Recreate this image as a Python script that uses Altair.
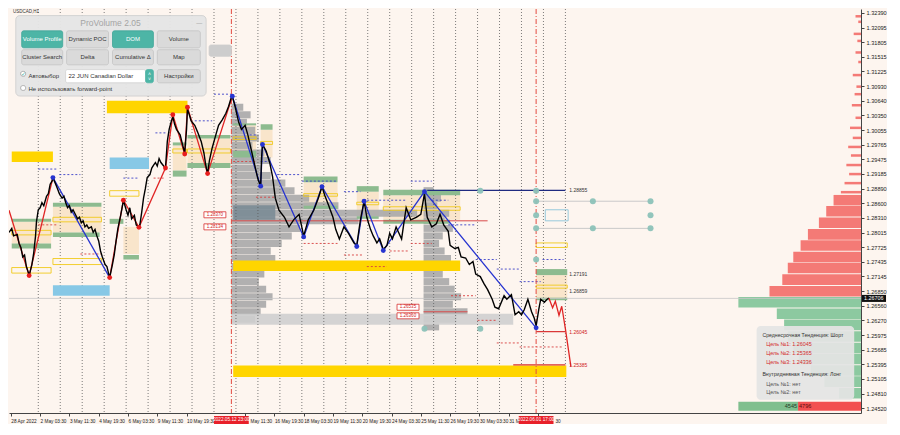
import json
import altair as alt
import pandas as pd

# ------------------------------------------------------------------ data
# x = hourly bar index since the first bar on screen, y = USDCAD price
# (the tick at bar 226 is hidden under a red time marker; partly covered labels keep their visible part)
TICK_BARS = [2, 34, 66, 98, 130, 162, 194, 258, 290, 322, 354, 386, 418, 450, 482, 514, 546, 578]
TICK_LABELS = ["28 Apr 2022", "2 May 03:30", "3 May 11:30", "4 May 19:30", "6 May 03:30",
               "9 May 11:30", "10 May 19:30", "May 11:30", "16 May 19:30",
               "18 May 03:30", "19 May 11:30", "20 May 19:30", "24 May 03:30", "25 May 11:30",
               "26 May 19:30", "30 May 03:30", "31 M", "30"]
DAY_BARS = [32, 56, 80, 104, 128, 152, 176, 200, 224, 248, 272, 296, 320, 344, 368, 392,
            416, 440, 464, 488, 512, 536, 560, 584, 608]
Y_TICKS = [1.32390, 1.32095, 1.31805, 1.31515, 1.31225, 1.30930, 1.30640, 1.30350, 1.30055,
           1.29765, 1.29475, 1.29185, 1.28890, 1.28600, 1.28310, 1.28015, 1.27725, 1.27435,
           1.27145, 1.26850, 1.26560, 1.26270, 1.25975, 1.25685, 1.25395, 1.25105, 1.24810, 1.24520]
X_DOMAIN = [0, 931]
Y_DOMAIN = [1.24426, 1.32465]
LAST_PRICE = 1.26706

MARK_BARS = [243, 576]
MARK_LABELS = ["2022.05.12 23:00", "2022.06.01 17:00"]

PRICE_BAR = [0, 3, 5, 9, 11, 13, 15, 17, 19, 21, 22, 25, 27, 29, 30, 32, 34, 36, 38, 41,
             43, 45, 47, 48, 51, 53, 55, 58, 60, 62, 64, 66, 68, 70, 73, 75, 77, 79, 81, 83,
             85, 87, 90, 92, 94, 96, 98, 100, 102, 105, 107, 109, 110, 113, 115, 117, 119, 122, 124, 125,
             128, 130, 132, 134, 137, 139, 142, 143, 145, 147, 149, 151, 154, 156, 158, 160, 162, 164, 166, 169,
             171, 173, 175, 177, 179, 181, 183, 187, 190, 192, 194, 195, 197, 199, 203, 206, 210, 213, 215, 217,
             219, 222, 226, 229, 233, 237, 240, 243, 244, 247, 251, 254, 258, 261, 265, 269, 272, 275, 276, 277,
             281, 285, 288, 291, 295, 301, 306, 311, 317, 322, 327, 333, 338, 342, 345, 349, 354, 357, 361, 366,
             371, 377, 380, 384, 388, 391, 395, 398, 402, 405, 409, 413, 416, 419, 423, 429, 432, 434, 439, 445,
             450, 454, 457, 462, 467, 471, 475, 480, 482, 487, 491, 494, 499, 503, 507, 510, 515, 519, 523, 528,
             531, 535, 541, 544, 549, 553, 557, 560, 563, 567, 571, 574, 576, 579, 581, 585, 588, 590]
PRICE = [1.2802, 1.2810, 1.2795, 1.2798, 1.2780, 1.2772, 1.2753, 1.2757, 1.2734, 1.2723,
         1.2716, 1.2738, 1.2761, 1.2795, 1.2823, 1.2847, 1.2851, 1.2861, 1.2855, 1.2874,
         1.2879, 1.2898, 1.2904, 1.2911, 1.2898, 1.2889, 1.2879, 1.2870, 1.2874, 1.2861,
         1.2851, 1.2855, 1.2842, 1.2847, 1.2836, 1.2829, 1.2832, 1.2821, 1.2825, 1.2813,
         1.2817, 1.2810, 1.2813, 1.2802, 1.2808, 1.2795, 1.2785, 1.2765, 1.2753, 1.2738,
         1.2734, 1.2719, 1.2712, 1.2738, 1.2757, 1.2785, 1.2810, 1.2836, 1.2855, 1.2866,
         1.2847, 1.2836, 1.2851, 1.2829, 1.2836, 1.2817, 1.2812, 1.2817, 1.2842, 1.2870,
         1.2889, 1.2911, 1.2917, 1.2930, 1.2936, 1.2941, 1.2934, 1.2949, 1.2941, 1.2934,
         1.2930, 1.2983, 1.3007, 1.3021, 1.3032, 1.3017, 1.3007, 1.2996, 1.2974, 1.2960,
         1.3007, 1.3047, 1.3036, 1.3024, 1.3015, 1.3002, 1.2983, 1.2960, 1.2936, 1.2919,
         1.2945, 1.2970, 1.2996, 1.3015, 1.3026, 1.3039, 1.3053, 1.3071, 1.3073, 1.3053,
         1.3021, 1.3007, 1.3015, 1.2996, 1.2964, 1.2932, 1.2908, 1.2894, 1.2951, 1.2977,
         1.2964, 1.2940, 1.2913, 1.2870, 1.2846, 1.2832, 1.2813, 1.2827, 1.2838, 1.2795,
         1.2827, 1.2846, 1.2870, 1.2893, 1.2876, 1.2857, 1.2832, 1.2808, 1.2789, 1.2813,
         1.2800, 1.2781, 1.2776, 1.2827, 1.2864, 1.2832, 1.2808, 1.2795, 1.2781, 1.2789,
         1.2768, 1.2776, 1.2800, 1.2789, 1.2813, 1.2789, 1.2827, 1.2851, 1.2827, 1.2832,
         1.2838, 1.2879, 1.2832, 1.2813, 1.2819, 1.2838, 1.2817, 1.2804, 1.2776, 1.2770,
         1.2772, 1.2753, 1.2751, 1.2738, 1.2744, 1.2719, 1.2714, 1.2700, 1.2688, 1.2669,
         1.2653, 1.2650, 1.2676, 1.2669, 1.2678, 1.2638, 1.2644, 1.2638, 1.2648, 1.2669,
         1.2644, 1.2631, 1.2616, 1.2650, 1.2669, 1.2663, 1.2669, 1.2671]

# zigzags
BLUE_ZZ = [(0, 48, 1.2911), (0, 110, 1.2712),
           (1, 244, 1.3073), (1, 275, 1.2894), (1, 277, 1.2977), (1, 322, 1.2793), (1, 342, 1.2893),
           (1, 380, 1.2774), (1, 388, 1.2864), (1, 409, 1.2766), (1, 454, 1.2883), (1, 576, 1.2612)]
RED_ZZ = [(0, 0, 1.2846), (0, 22, 1.2716), (0, 48, 1.2911),
          (1, 110, 1.2712), (1, 125, 1.2866), (1, 142, 1.2812), (1, 171, 1.2930), (1, 179, 1.3036),
          (1, 192, 1.2958), (1, 195, 1.3051), (1, 217, 1.2919), (1, 244, 1.3073)]
BLUE_DOT_BAR = [48, 244, 275, 277, 322, 342, 380, 388, 409, 454, 576]
BLUE_DOT_P = [1.2911, 1.3073, 1.2894, 1.2977, 1.2793, 1.2893, 1.2774, 1.2864, 1.2766, 1.2883, 1.2612]
RED_DOT_BAR = [22, 110, 125, 142, 171, 179, 192, 195, 217]
RED_DOT_P = [1.2716, 1.2712, 1.2866, 1.2812, 1.2930, 1.3036, 1.2958, 1.3051, 1.2919]

FORECAST_BAR = [590, 594, 597, 601, 604, 608, 614]
FORECAST = [1.2671, 1.2652, 1.2665, 1.2637, 1.2655, 1.2610, 1.2535]

# zones: (bar from, bar to, price top, price bottom)
GOLD_ZONES = [(3, 48, 1.2963, 1.2942), (107, 195, 1.3064, 1.3039),
              (245, 493, 1.2746, 1.2725), (245, 609, 1.2537, 1.2514)]
SKY_ZONES = [(110, 153, 1.2951, 1.2928), (48, 110, 1.2697, 1.2676)]
GREEN_ZONES = [(48, 101, 1.2861, 1.2853), (3, 46, 1.2829, 1.2823), (48, 99, 1.2802, 1.2793),
               (3, 46, 1.2780, 1.2770), (110, 125, 1.2829, 1.2819), (125, 142, 1.2757, 1.2748),
               (195, 242, 1.2996, 1.2989), (179, 194, 1.2981, 1.2975), (195, 242, 1.2940, 1.2930),
               (179, 194, 1.2925, 1.2913), (245, 270, 1.3019, 1.3015), (275, 288, 1.3017, 1.3006),
               (245, 270, 1.2964, 1.2951), (322, 359, 1.2913, 1.2902), (322, 359, 1.2855, 1.2849),
               (380, 404, 1.2894, 1.2883), (380, 404, 1.2834, 1.2829), (409, 493, 1.2887, 1.2876),
               (409, 482, 1.2827, 1.2819), (576, 610, 1.2729, 1.2717), (576, 610, 1.2672, 1.2667)]
BEIGE_ZONES = [(3, 46, 1.2823, 1.2780), (48, 101, 1.2853, 1.2802), (125, 142, 1.2813, 1.2759),
               (179, 194, 1.2975, 1.2925), (195, 242, 1.2989, 1.2940), (245, 270, 1.3015, 1.2964),
               (275, 288, 1.3006, 1.2951), (322, 359, 1.2902, 1.2855), (380, 404, 1.2883, 1.2834),
               (409, 493, 1.2876, 1.2827), (576, 610, 1.2717, 1.2671)]
YELLOW_BOXES = [(48, 101, 1.2832, 1.2823), (3, 46, 1.2806, 1.2797), (48, 101, 1.2750, 1.2738),
                (3, 46, 1.2732, 1.2721), (110, 142, 1.2885, 1.2874), (195, 242, 1.2968, 1.2960),
                (179, 194, 1.2968, 1.2960), (245, 270, 1.2992, 1.2987), (275, 288, 1.2983, 1.2977),
                (322, 359, 1.2879, 1.2874), (380, 404, 1.2862, 1.2857), (409, 493, 1.2853, 1.2846),
                (576, 610, 1.2781, 1.2772), (576, 610, 1.2697, 1.2691)]
SKY_BOXES = [(586, 611, 1.2847, 1.2825)]
VALUE_BAND = [(243, 551, 1.2640, 1.2618)]
DARK_BAND = [(245, 291, 1.2856, 1.2827)]

# short dotted levels: (bar from, bar to, price)
NAVY_DOTS = [(32, 53, 1.2928), (55, 78, 1.2917), (125, 142, 1.2910), (160, 171, 1.3000),
             (203, 222, 1.3024), (224, 245, 1.3077), (263, 270, 1.2996), (275, 288, 1.2943),
             (293, 318, 1.2917), (320, 359, 1.2904), (366, 384, 1.2883), (387, 434, 1.2866),
             (439, 462, 1.2904), (462, 480, 1.2866), (480, 510, 1.2817), (510, 533, 1.2748),
             (533, 558, 1.2729), (558, 581, 1.2704), (583, 606, 1.2748)]
RED_DOTS = [(32, 53, 1.2817), (78, 101, 1.2759), (158, 171, 1.2910), (245, 270, 1.2943),
            (270, 291, 1.2872), (322, 359, 1.2780), (366, 387, 1.2757), (391, 413, 1.2734),
            (416, 437, 1.2765), (439, 462, 1.2780), (483, 510, 1.2676), (512, 533, 1.2627),
            (533, 558, 1.2582), (558, 605, 1.2574)]
POC_LINES = [(243, 523, 1.2825), (453, 501, 1.2644)]

# levels with labels
NAVY_LEVEL = [(457, 608, 1.28855)]
RED_LEVELS = [(576, 608, 1.26045), (551, 608, 1.25385)]
LEVEL_TEXT_P = [1.28855, 1.27191, 1.26859]
LEVEL_TEXT = ["1.28855", "1.27191", "1.26859"]
RED_TEXT_P = [1.26045, 1.25385]
RED_TEXT = ["1.26045", "1.25385"]
TAG_BAR = [225, 225, 436, 436]
TAG_P = [1.2837, 1.2813, 1.2653, 1.2636]
TAG_TEXT = ["1.28370", "1.28134", "1.26535", "1.26360"]

# projection dots & lines
TEAL_BAR = [576, 576, 576, 576, 576, 638, 638, 701, 701, 701, 515, 454, 515]
TEAL_P = [1.2885, 1.2864, 1.2836, 1.2810, 1.2748, 1.2864, 1.2810, 1.2864, 1.2836, 1.2810,
          1.2885, 1.2610, 1.2610]
GRAY_LINES = [(576, 701, 1.2864), (576, 701, 1.2810)]

# volume profiles (price centre, volume in bars)
P1_START = 243
P1_PRICE = [1.3051, 1.3036, 1.3021, 1.3005, 1.2990, 1.2975, 1.2960, 1.2945, 1.2930, 1.2915,
            1.2900, 1.2885, 1.2870, 1.2855, 1.2840, 1.2825, 1.2810, 1.2795, 1.2780, 1.2765,
            1.2750, 1.2734, 1.2719, 1.2704, 1.2689, 1.2674, 1.2659, 1.2644, 1.2629]
P1_VOL = [13, 21, 17, 26, 30, 23, 36, 43, 32, 43, 59, 69, 85, 117, 203, 139, 75, 66, 55, 43,
          48, 43, 36, 30, 38, 45, 38, 32, 26]
P2_START = 453
P2_PRICE = [1.2885, 1.2870, 1.2855, 1.2840, 1.2825, 1.2810, 1.2795, 1.2780, 1.2765, 1.2750,
            1.2734, 1.2719, 1.2704, 1.2689, 1.2674, 1.2659, 1.2644, 1.2629, 1.2614]
P2_VOL = [11, 19, 15, 28, 23, 32, 21, 17, 23, 30, 38, 21, 28, 34, 41, 32, 48, 36, 17]
# session profile on the right edge (sellers above last price, buyers below)
RP_THIN_PRICE = [1.3232, 1.3221, 1.3197, 1.3183, 1.3160, 1.3141, 1.3115, 1.3092, 1.3077, 1.3055,
                 1.3030, 1.3010, 1.2990, 1.2972, 1.2955, 1.2936, 1.2918, 1.2900, 1.2882]
RP_THIN_VOL = [6, 3, 8, 4, 6, 3, 9, 5, 7, 10, 6, 12, 9, 14, 11, 16, 13, 18, 22]
RP_SELL_PRICE = [1.2866, 1.2844, 1.2821, 1.2798, 1.2776, 1.2753, 1.2731, 1.2708, 1.2685]
RP_SELL_VOL = [30, 38, 46, 58, 66, 74, 80, 86, 100]
RP_BUY_PRICE = [1.2663, 1.2640, 1.2618, 1.2595, 1.2572, 1.2550, 1.2527, 1.2505, 1.2482]
RP_BUY_VOL = [134, 92, 84, 80, 74, 68, 55, 40, 24]
BUY_TOTAL, SELL_TOTAL = 4545, 4796

INFO_LINES = ["Среднесрочная Тенденция: Шорт", "Цель №1: 1.26045", "Цель №2: 1.25365",
              "Цель №3: 1.24336", "Внутридневная Тенденция: Лонг", "Цель №1: нет", "Цель №2: нет"]

# ------------------------------------------------------------------ layout / style
W, H = 852, 404
RW, RH = 873.0, 427.0


def px(v):
    return round(v * W / RW, 1)


def py(v):
    return round(v * H / RH, 1)


BG = "#fdf5ef"
FONT = "Liberation Sans"
xs = alt.Scale(domain=X_DOMAIN, nice=False, zero=False)
ys = alt.Scale(domain=Y_DOMAIN, nice=False, zero=False)

x_axis = alt.Axis(values=TICK_BARS,
                  labelExpr="%s[indexof(%s, datum.value)]" % (json.dumps(TICK_LABELS), json.dumps(TICK_BARS)),
                  labelAlign="left", labelBaseline="top", labelFontSize=4.7, labelFont=FONT,
                  labelColor="#222", labelPadding=2, tickSize=3, tickColor="#444", domainColor="#444",
                  labelOffset={"condition": [{"test": "datum.value == 258", "value": 5},
                                             {"test": "datum.value == 578", "value": 17}],
                               "value": 0},
                  grid=False, title=None, labelOverlap=False, labelFlush=False)
y_axis = alt.Axis(orient="right", values=Y_TICKS, format=".5f", labelFontSize=5.6, labelFont=FONT,
                  labelColor="#222", labelPadding=2, tickSize=3, tickColor="#444", domainColor="#444",
                  grid=False, title=None, labelOverlap=False, labelFlush=False)


def XQ(f="x"):
    return alt.X(f + ":Q", scale=xs, axis=x_axis)


def YQ(f="y"):
    return alt.Y(f + ":Q", scale=ys, axis=y_axis)


def rects(zones, **mk):
    df = pd.DataFrame(zones, columns=["x", "x2", "y", "y2"])
    return alt.Chart(df).mark_rect(clip=True, **mk).encode(x=XQ(), x2="x2:Q", y=YQ(), y2="y2:Q")


def hlines(lines, **mk):
    df = pd.DataFrame(lines, columns=["x", "x2", "y"])
    return alt.Chart(df).mark_rule(clip=True, **mk).encode(x=XQ(), x2="x2:Q", y=YQ())


def profile(start, prices, vols, h, leftward=False):
    rows = []
    for p, v in zip(prices, vols):
        x1, x2 = (start - v, start) if leftward else (start, start + v)
        rows.append((x1, x2, p + h / 2, p - h / 2))
    return rows


layers = []
layers.append(rects(BEIGE_ZONES, color="#f7dfbf", opacity=0.75))
layers.append(rects(profile(P1_START, P1_PRICE, P1_VOL, 0.0014), color="#a9a9a9", opacity=0.9))
layers.append(rects(profile(P2_START, P2_PRICE, P2_VOL, 0.0014), color="#a9a9a9", opacity=0.9))
layers.append(rects(VALUE_BAND, color="#cfcfcf", opacity=0.9))
layers.append(rects(DARK_BAND, color="#7b8c96", opacity=0.9))
layers.append(alt.Chart(pd.DataFrame({"x": DAY_BARS})).mark_rule(
    clip=True, color="#5c5c5c", strokeDash=[1, 2], strokeWidth=0.8).encode(x=XQ()))
layers.append(rects(GOLD_ZONES, color="#ffd500"))
layers.append(rects(SKY_ZONES, color="#87c8e6"))
layers.append(rects(GREEN_ZONES, color="#8dbb8f"))
layers.append(rects(YELLOW_BOXES, color="#f0c91c", filled=False, strokeWidth=0.9))
layers.append(rects(SKY_BOXES, color="#8cc4da", filled=False, strokeWidth=0.9))
layers.append(hlines(NAVY_DOTS, color="#3a3fc8", strokeDash=[2, 2], strokeWidth=0.9))
layers.append(hlines(RED_DOTS, color="#d84040", strokeDash=[2, 2], strokeWidth=0.9))
layers.append(hlines(POC_LINES, color="#d84a4a", strokeWidth=1))
layers.append(rects(profile(X_DOMAIN[1], RP_THIN_PRICE, RP_THIN_VOL, 0.0005, leftward=True),
                    color="#f47a76"))
layers.append(rects(profile(X_DOMAIN[1], RP_SELL_PRICE, RP_SELL_VOL, 0.0021, leftward=True),
                    color="#f47a76"))
layers.append(rects(profile(X_DOMAIN[1], RP_BUY_PRICE, RP_BUY_VOL, 0.0021, leftward=True),
                    color="#8cc9a0"))
layers.append(alt.Chart(pd.DataFrame({"y": [LAST_PRICE]})).mark_rule(
    color="#c8c8c8", strokeWidth=0.8).encode(y=YQ()))
layers.append(hlines(GRAY_LINES, color="#c9c9c9", strokeWidth=1))
layers.append(hlines(NAVY_LEVEL, color="#1f2a80", strokeWidth=1.2))
layers.append(hlines(RED_LEVELS, color="#d93030", strokeWidth=1.2))
layers.append(alt.Chart(pd.DataFrame({"x": MARK_BARS})).mark_rule(
    clip=True, color="#e34b40", strokeDash=[5, 2, 1, 2], strokeWidth=1).encode(x=XQ()))
layers.append(alt.Chart(pd.DataFrame({"x": TEAL_BAR, "y": TEAL_P})).mark_circle(
    size=36, color="#8cc2b8", opacity=0.95, clip=True).encode(x=XQ(), y=YQ()))

blue_df = pd.DataFrame(BLUE_ZZ, columns=["seg", "x", "y"])
red_df = pd.DataFrame(RED_ZZ, columns=["seg", "x", "y"])
layers.append(alt.Chart(red_df).mark_line(color="#e02525", strokeWidth=1.3, clip=True).encode(
    x=XQ(), y=YQ(), detail="seg:N"))
layers.append(alt.Chart(blue_df).mark_line(color="#2734d0", strokeWidth=1.3, clip=True).encode(
    x=XQ(), y=YQ(), detail="seg:N"))

price_df = pd.DataFrame({"x": PRICE_BAR, "y": PRICE})
layers.append(alt.Chart(price_df).mark_line(color="#000000", strokeWidth=1.4, clip=True).encode(
    x=XQ(), y=YQ()))
layers.append(alt.Chart(pd.DataFrame({"x": FORECAST_BAR, "y": FORECAST})).mark_line(
    color="#e02525", strokeWidth=1.3, clip=True).encode(x=XQ(), y=YQ()))
layers.append(alt.Chart(pd.DataFrame({"x": BLUE_DOT_BAR, "y": BLUE_DOT_P})).mark_circle(
    size=24, color="#2734d0", opacity=1).encode(x=XQ(), y=YQ()))
layers.append(alt.Chart(pd.DataFrame({"x": RED_DOT_BAR, "y": RED_DOT_P})).mark_circle(
    size=24, color="#e81e1e", opacity=1).encode(x=XQ(), y=YQ()))

# level labels
layers.append(alt.Chart(pd.DataFrame({"x": [610] * 3, "y": LEVEL_TEXT_P, "t": LEVEL_TEXT})).mark_text(
    align="left", baseline="middle", fontSize=5, font=FONT, color="#333", dx=2).encode(
    x=XQ(), y=YQ(), text="t:N"))
layers.append(alt.Chart(pd.DataFrame({"x": [610] * 2, "y": RED_TEXT_P, "t": RED_TEXT})).mark_text(
    align="left", baseline="middle", fontSize=5, font=FONT, color="#d02020", dx=2).encode(
    x=XQ(), y=YQ(), text="t:N"))
tag_df = pd.DataFrame({"x": TAG_BAR, "y": TAG_P, "t": TAG_TEXT})
tag_df["x1"] = tag_df["x"] - 12
tag_df["x2"] = tag_df["x"] + 12
tag_df["y1"] = tag_df["y"] + 0.0006
tag_df["y2"] = tag_df["y"] - 0.0006
layers.append(alt.Chart(tag_df).mark_rect(color="#ffffff", stroke="#d83030", strokeWidth=0.8).encode(
    x=XQ("x1"), x2="x2:Q", y=YQ("y1"), y2="y2:Q"))
layers.append(alt.Chart(tag_df).mark_text(fontSize=4.5, font=FONT, color="#d02020").encode(
    x=XQ(), y=YQ(), text="t:N"))

# buy / sell totals strip
span = 134.0
bx0 = X_DOMAIN[1] - span
bx1 = bx0 + span * BUY_TOTAL / (BUY_TOTAL + SELL_TOTAL)
vol_df = pd.DataFrame({"x": [bx0, bx1], "x2": [bx1, X_DOMAIN[1]], "y": [1.2465, 1.2465],
                       "y2": [1.2447, 1.2447]})
layers.append(alt.Chart(vol_df.iloc[[0]]).mark_rect(color="#7fbf8e").encode(
    x=XQ(), x2="x2:Q", y=YQ(), y2="y2:Q"))
layers.append(alt.Chart(vol_df.iloc[[1]]).mark_rect(color="#f25050").encode(
    x=XQ(), x2="x2:Q", y=YQ(), y2="y2:Q"))
layers.append(alt.Chart(pd.DataFrame({"x": [bx1], "y": [1.2456], "t": [str(BUY_TOTAL)]})).mark_text(
    align="right", baseline="middle", fontSize=5.5, font=FONT, color="#1f3a25", dx=-1).encode(
    x=XQ(), y=YQ(), text="t:N"))
layers.append(alt.Chart(pd.DataFrame({"x": [bx1], "y": [1.2456], "t": [str(SELL_TOTAL)]})).mark_text(
    align="left", baseline="middle", fontSize=5.5, font=FONT, color="#5a0d0d", dx=1).encode(
    x=XQ(), y=YQ(), text="t:N"))

# time markers on the x axis
mk_df = pd.DataFrame({"x": MARK_BARS, "t": MARK_LABELS})
mk_df["x1"] = mk_df["x"] - 19
mk_df["x2"] = mk_df["x"] + 19
layers.append(alt.Chart(mk_df).mark_rect(color="#e8202a", clip=False).encode(
    x=XQ("x1"), x2="x2:Q", y=alt.value(H + 3), y2=alt.value(H + 11)))
layers.append(alt.Chart(mk_df).mark_text(color="#ffffff", fontSize=4.7, font=FONT, baseline="middle",
                                         clip=False).encode(x=XQ(), y=alt.value(H + 7.2), text="t:N"))

# current price marker on the y axis
cp_df = pd.DataFrame({"y": [LAST_PRICE + 0.0007], "y2": [LAST_PRICE - 0.0007], "yc": [LAST_PRICE],
                      "t": ["%.5f" % LAST_PRICE]})
layers.append(alt.Chart(cp_df).mark_rect(color="#111111", clip=False).encode(
    x=alt.value(W + 1), x2=alt.value(W + 25), y=YQ(), y2="y2:Q"))
layers.append(alt.Chart(cp_df).mark_text(color="#ffffff", fontSize=5.4, font=FONT, align="left",
                                         baseline="middle", clip=False).encode(
    x=alt.value(W + 3), y=YQ("yc"), text="t:N"))

# ------------------------------------------------------------------ UI overlays (pixel layout)
TEAL, GRAYB, WHITE = "#4db5a6", "#dadada", "#ffffff"
ui_boxes = [
    (205, 38, 228, 50, "#cdcdcd", "#cdcdcd"),
    (13, 23, 55, 41, TEAL, "#3fa597"), (59, 23, 102, 41, GRAYB, "#c4c4c4"),
    (106, 23, 148, 41, TEAL, "#3fa597"), (152, 23, 196, 41, GRAYB, "#c4c4c4"),
    (13, 43, 55, 59, GRAYB, "#c4c4c4"), (59, 43, 102, 59, GRAYB, "#c4c4c4"),
    (106, 43, 148, 59, GRAYB, "#c4c4c4"), (152, 43, 196, 59, GRAYB, "#c4c4c4"),
    (58, 64, 140, 78, WHITE, "#d0d0d0"), (140, 64, 148, 78, TEAL, TEAL),
    (152, 64, 196, 78, GRAYB, "#c4c4c4"),
    (12, 66, 17, 71, WHITE, "#9a9a9a"), (12, 81, 17, 86, WHITE, "#9a9a9a"),
]
ui_df = pd.DataFrame([(px(a), py(b), px(c), py(d), f, s) for a, b, c, d, f, s in ui_boxes],
                     columns=["x", "y", "x2", "y2", "f", "s"])
panel_df = pd.DataFrame([(px(7), py(7), px(202), py(92)), (px(766), py(335), px(866), py(413))],
                        columns=["x", "y", "x2", "y2"])
PXS = dict(scale=None, axis=None)
layers.append(alt.Chart(panel_df.iloc[[0]]).mark_rect(
    color="#e6e6e6", stroke="#d2d2d2", cornerRadius=4, opacity=0.96).encode(
    x=alt.X("x:Q", **PXS), x2="x2:Q", y=alt.Y("y:Q", **PXS), y2="y2:Q"))
layers.append(alt.Chart(panel_df.iloc[[1]]).mark_rect(
    color="#e4e4e4", cornerRadius=4, opacity=0.93).encode(
    x=alt.X("x:Q", **PXS), x2="x2:Q", y=alt.Y("y:Q", **PXS), y2="y2:Q"))
layers.append(alt.Chart(ui_df).mark_rect(cornerRadius=2, strokeWidth=0.8).encode(
    x=alt.X("x:Q", **PXS), x2="x2:Q", y=alt.Y("y:Q", **PXS), y2="y2:Q",
    fill=alt.Fill("f:N", scale=None, legend=None), stroke=alt.Stroke("s:N", scale=None, legend=None)))

ui_center = [
    (104, 15, "ProVolume 2.05", 8.5, "#a4a4a4"), (195, 15, "—", 6, "#999999"),
    (34, 32, "Volume Profile", 6, "#ffffff"), (80.5, 32, "Dynamic POC", 6, "#333333"),
    (127, 32, "DOM", 6, "#ffffff"), (174, 32, "Volume", 6, "#333333"),
    (34, 51, "Cluster Search", 6, "#333333"), (80.5, 51, "Delta", 6, "#333333"),
    (127, 51, "Cumulative Δ", 6, "#333333"), (174, 51, "Map", 6, "#333333"),
    (174, 71, "Настройки", 6, "#333333"), (14.5, 68.5, "✓", 6, TEAL),
    (144, 69, "˄", 5, "#ffffff"), (144, 74, "˅", 5, "#ffffff"),
]
ui_left = [
    (4, 3, "USDCAD,H1", 4.5, "#333333"),
    (20, 71, "Автовыбор", 6, "#333333"), (61, 71, "22 JUN Canadian Dollar", 6, "#333333"),
    (20, 84.5, "Не использовать forward-point", 6, "#333333"),
]
info_pos = [(772, 344, "#333333", 5.2), (776, 354, "#d42a2a", 5.4), (776, 363.5, "#d42a2a", 5.4),
            (776, 373, "#d42a2a", 5.4), (772, 386, "#333333", 5.2), (776, 396, "#555555", 5.4),
            (776, 405, "#555555", 5.4)]
for (xx, yy, cc, ss), tt in zip(info_pos, INFO_LINES):
    ui_left.append((xx, yy, tt, ss, cc))


def ui_text(rows, align):
    df = pd.DataFrame([(px(a), py(b), t, s, c) for a, b, t, s, c in rows], columns=["x", "y", "t", "s", "c"])
    return alt.Chart(df).mark_text(align=align, baseline="middle", font=FONT).encode(
        x=alt.X("x:Q", **PXS), y=alt.Y("y:Q", **PXS), text="t:N",
        size=alt.Size("s:Q", scale=None, legend=None), color=alt.Color("c:N", scale=None, legend=None))


layers.append(ui_text(ui_center, "center"))
layers.append(ui_text(ui_left, "left"))

chart = alt.layer(*layers).properties(width=W, height=H, background=BG, padding=0).configure_view(
    stroke=None, fill=BG)

chart.save("out.html", embed_options={"renderer": "svg", "actions": False})
